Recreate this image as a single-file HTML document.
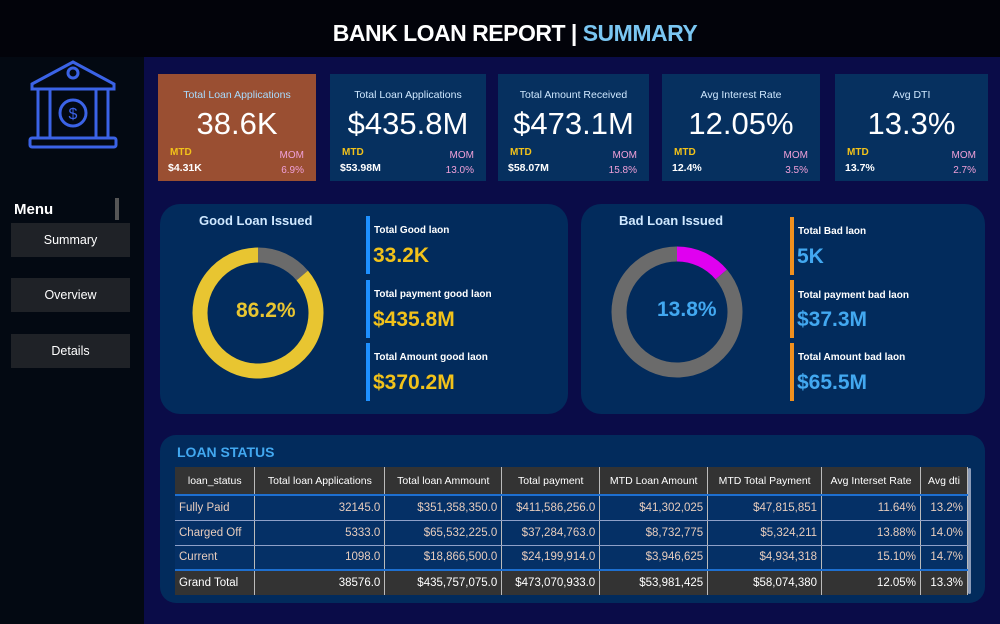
<!DOCTYPE html>
<html><head><meta charset="utf-8">
<style>
*{margin:0;padding:0;box-sizing:border-box}
body{width:1000px;height:624px;overflow:hidden;background:#0a0c48;font-family:"Liberation Sans","DejaVu Sans",sans-serif;position:relative}
.abs{position:absolute}
#header{left:0;top:0;width:1000px;height:57px;background:#02030a}
#title{left:0;top:20px;width:1030px;text-align:center;font-size:23px;font-weight:bold;color:#fff;letter-spacing:-0.5px}
#title span{color:#7ac6f2}
#sidebar{left:0;top:57px;width:144px;height:567px;background:#030912}
.btn{left:11px;width:119px;height:34px;background:#1f2227;color:#fff;font-size:12.5px;text-align:center;line-height:34px}
.card{top:74px;height:107px;background:#06305f;color:#fff}
.card .t{position:absolute;top:15px;width:100%;text-align:center;font-size:10.5px;color:#cfe8ff}
.card .v{position:absolute;top:32px;width:100%;text-align:center;font-size:31px}
.card .mtd{position:absolute;left:12px;top:73px;font-size:10px;font-weight:bold;color:#f2c21a}
.card .mtdv{position:absolute;left:10px;top:88px;font-size:10.5px;font-weight:bold}
.card .mom{position:absolute;right:12px;top:76px;font-size:10px;color:#f0a0d8}
.card .momv{position:absolute;right:12px;top:91px;font-size:10px;color:#f0a0d8}
.panel{background:#022b5c;border-radius:20px}
.ptitle{font-size:13px;font-weight:bold;color:#cfe8ff}
.kbar{width:4px;height:58px}
.klab{font-size:10px;font-weight:bold;color:#fff}
.kval{font-size:21px;font-weight:bold}
table{border-collapse:collapse;font-size:11.5px}
td,th{height:25px;padding:0 4px;border-right:1px solid #bbb}
th{background:#333;color:#fff;font-weight:normal;font-size:10.5px;height:28px;border-bottom:2px solid #1e6fd0}
td{color:#e8cdbd;text-align:right;border-bottom:1px solid #8fa0c8;background:#053066}
td:first-child{text-align:left}
tr.gt td{background:#333;color:#fff;border-bottom:none;border-top:2px solid #1e6fd0}
</style></head><body>
<div id="header" class="abs"></div>
<div id="title" class="abs">BANK LOAN REPORT | <span>SUMMARY</span></div>

<div id="sidebar" class="abs"></div>
<svg class="abs" style="left:28px;top:58px" width="90" height="92" viewBox="0 0 90 92" fill="none" stroke="#3b63e6" stroke-width="3">
<path d="M4 26 L45 4 L86 26 L86 31 L4 31 Z"/><circle cx="45" cy="15" r="5"/>
<path d="M10 31 L10 80 M22 31 L22 80 M68 31 L68 80 M80 31 L80 80 M6 31 L26 31 M64 31 L84 31"/>
<circle cx="45" cy="55" r="13"/><text x="45" y="61" font-size="16" fill="#3b63e6" stroke="none" text-anchor="middle" font-family="Liberation Sans">$</text>
<rect x="2" y="80" width="86" height="9" rx="2"/></svg>
<div class="abs" style="left:14px;top:201px;font-size:15px;font-weight:bold;color:#fff">Menu</div>
<div class="abs" style="left:115px;top:198px;width:4px;height:22px;background:#555"></div>
<div class="abs btn" style="top:223px">Summary</div>
<div class="abs btn" style="top:278px">Overview</div>
<div class="abs btn" style="top:334px">Details</div>

<div class="abs card" style="left:158px;width:158px;background:#9a4f32"><div class="t" style="color:#a8dcff">Total Loan Applications</div><div class="v">38.6K</div><div class="mtd">MTD</div><div class="mtdv">$4.31K</div><div class="mom">MOM</div><div class="momv">6.9%</div></div>
<div class="abs card" style="left:330px;width:156px"><div class="t">Total Loan Applications</div><div class="v">$435.8M</div><div class="mtd">MTD</div><div class="mtdv">$53.98M</div><div class="mom">MOM</div><div class="momv">13.0%</div></div>
<div class="abs card" style="left:498px;width:151px"><div class="t">Total Amount Received</div><div class="v">$473.1M</div><div class="mtd">MTD</div><div class="mtdv">$58.07M</div><div class="mom">MOM</div><div class="momv">15.8%</div></div>
<div class="abs card" style="left:662px;width:158px"><div class="t">Avg Interest Rate</div><div class="v">12.05%</div><div class="mtd">MTD</div><div class="mtdv">12.4%</div><div class="mom">MOM</div><div class="momv">3.5%</div></div>
<div class="abs card" style="left:835px;width:153px"><div class="t">Avg DTI</div><div class="v">13.3%</div><div class="mtd">MTD</div><div class="mtdv">13.7%</div><div class="mom">MOM</div><div class="momv">2.7%</div></div>

<div class="abs panel" style="left:160px;top:204px;width:408px;height:210px"></div>
<div class="abs ptitle" style="left:199px;top:213px">Good Loan Issued</div>
<svg id="goodDonut" class="abs" style="left:188px;top:243px" width="140" height="140"></svg>
<div class="abs" style="left:236px;top:299px;font-size:21px;font-weight:bold;color:#e8c531">86.2%</div>
<div class="abs kbar" style="left:366px;top:216px;background:#1e90ff"></div>
<div class="abs klab" style="left:374px;top:225px">Total Good laon</div>
<div class="abs kval" style="left:373px;top:244px;color:#f2c21a">33.2K</div>
<div class="abs kbar" style="left:366px;top:280px;background:#1e90ff"></div>
<div class="abs klab" style="left:374px;top:289px">Total payment good laon</div>
<div class="abs kval" style="left:373px;top:308px;color:#f2c21a">$435.8M</div>
<div class="abs kbar" style="left:366px;top:343px;background:#1e90ff"></div>
<div class="abs klab" style="left:374px;top:352px">Total Amount good laon</div>
<div class="abs kval" style="left:373px;top:371px;color:#f2c21a">$370.2M</div>

<div class="abs panel" style="left:581px;top:204px;width:404px;height:210px"></div>
<div class="abs ptitle" style="left:619px;top:213px">Bad Loan Issued</div>
<svg id="badDonut" class="abs" style="left:607px;top:242px" width="140" height="140"></svg>
<div class="abs" style="left:657px;top:298px;font-size:21px;font-weight:bold;color:#42a8f0">13.8%</div>
<div class="abs kbar" style="left:790px;top:217px;background:#f0901e"></div>
<div class="abs klab" style="left:798px;top:226px">Total Bad laon</div>
<div class="abs kval" style="left:797px;top:245px;color:#42a8f0">5K</div>
<div class="abs kbar" style="left:790px;top:280px;background:#f0901e"></div>
<div class="abs klab" style="left:798px;top:290px">Total payment bad laon</div>
<div class="abs kval" style="left:797px;top:308px;color:#42a8f0">$37.3M</div>
<div class="abs kbar" style="left:790px;top:343px;background:#f0901e"></div>
<div class="abs klab" style="left:798px;top:352px">Total Amount bad laon</div>
<div class="abs kval" style="left:797px;top:371px;color:#42a8f0">$65.5M</div>

<div class="abs panel" style="left:160px;top:435px;width:825px;height:168px;border-radius:16px"></div>
<div class="abs" style="left:177px;top:444px;font-size:14px;font-weight:bold;color:#42a8f0">LOAN STATUS</div>
<table class="abs" style="left:175px;top:467px;width:793px">
<colgroup><col style="width:80px"><col style="width:130px"><col style="width:117px"><col style="width:98px"><col style="width:108px"><col style="width:114px"><col style="width:99px"><col style="width:47px"></colgroup>
<tr><th>loan_status</th><th>Total loan Applications</th><th>Total loan Ammount</th><th>Total payment</th><th>MTD Loan Amount</th><th>MTD Total Payment</th><th>Avg Interset Rate</th><th>Avg dti</th></tr>
<tr><td>Fully Paid</td><td>32145.0</td><td>$351,358,350.0</td><td>$411,586,256.0</td><td>$41,302,025</td><td>$47,815,851</td><td>11.64%</td><td>13.2%</td></tr>
<tr><td>Charged Off</td><td>5333.0</td><td>$65,532,225.0</td><td>$37,284,763.0</td><td>$8,732,775</td><td>$5,324,211</td><td>13.88%</td><td>14.0%</td></tr>
<tr><td>Current</td><td>1098.0</td><td>$18,866,500.0</td><td>$24,199,914.0</td><td>$3,946,625</td><td>$4,934,318</td><td>15.10%</td><td>14.7%</td></tr>
<tr class="gt"><td>Grand Total</td><td>38576.0</td><td>$435,757,075.0</td><td>$473,070,933.0</td><td>$53,981,425</td><td>$58,074,380</td><td>12.05%</td><td>13.3%</td></tr>
</table>
<div class="abs" style="left:968px;top:468px;width:3px;height:126px;background:#8a9bb8;border-radius:2px"></div>

<script>
const goodLabels = ["Bad","Good"];
const goodValues = [13.8, 86.2];
const goodColors = ["#6b6b6b","#e8c531"];
const badLabels = ["Bad","Good"];
const badValues = [13.8, 86.2];
const badColors = ["#e000f0","#6b6b6b"];
function drawDonut(id, labels, values, colors){
  const svg = document.getElementById(id);
  const cx=70, cy=70, r=58, w=15;
  const total = values.reduce((a,b)=>a+b,0);
  let a0 = 0;
  values.forEach((v,i)=>{
    const a1 = a0 + v/total*Math.PI*2;
    const x0=cx+r*Math.sin(a0), y0=cy-r*Math.cos(a0);
    const x1=cx+r*Math.sin(a1), y1=cy-r*Math.cos(a1);
    const p=document.createElementNS("http://www.w3.org/2000/svg","path");
    p.setAttribute("d",`M${x0} ${y0} A${r} ${r} 0 ${a1-a0>Math.PI?1:0} 1 ${x1} ${y1}`);
    p.setAttribute("fill","none");
    p.setAttribute("stroke",colors[i]);
    p.setAttribute("stroke-width",w);
    
    
    svg.appendChild(p);
    a0=a1;
  });
}
drawDonut("goodDonut", goodLabels, goodValues, goodColors);
drawDonut("badDonut", badLabels, badValues, badColors);
</script>
</body></html>
